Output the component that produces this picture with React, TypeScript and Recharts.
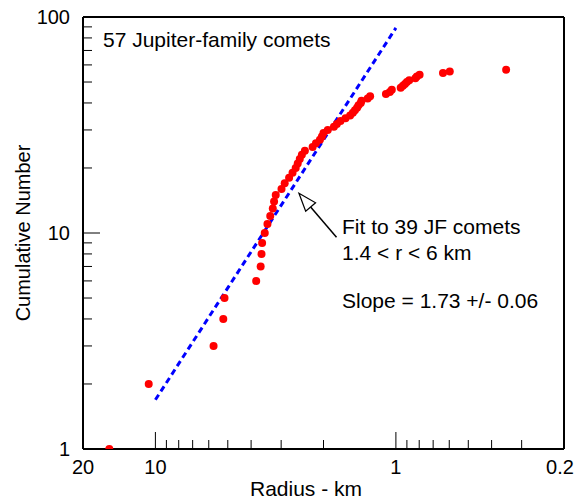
import { ScatterChart, Scatter, XAxis, YAxis, ReferenceLine, Customized } from 'recharts'

// cumulative count vs comet radius (km), largest first
const counts = [
  1, 2, 3, 4, 5, 6, 7, 8, 9, 10, 11, 12, 13, 14, 15, 16, 17, 18, 19, 20,
  21, 22, 23, 24, 25, 26, 27, 28, 29, 30, 31, 32, 33, 34, 35, 36, 37, 38, 39, 40,
  41, 42, 43, 44, 45, 46, 47, 48, 49, 50, 51, 52, 53, 54, 55, 56, 57,
]
const radii = [
  15.55, 10.66, 5.73, 5.22, 5.16, 3.81, 3.65, 3.62, 3.6, 3.51, 3.42, 3.33, 3.25, 3.21, 3.16, 2.99, 2.9, 2.78, 2.69, 2.61,
  2.56, 2.51, 2.46, 2.39, 2.22, 2.15, 2.07, 2.03, 2.0, 1.92, 1.81, 1.76, 1.7, 1.62, 1.55, 1.51, 1.48, 1.45, 1.43, 1.4,
  1.39, 1.31, 1.28, 1.1, 1.06, 1.04, 0.955, 0.935, 0.917, 0.9, 0.88, 0.83, 0.818, 0.797, 0.637, 0.597, 0.348,
]

// power-law fit, N ~ r^-1.73
const fitRadius = [10, 1]
const fitCount = [1.69, 89]

// arrow pointing at the fit line: [tail, tip]
const arrowRadius = [1.766, 2.53]
const arrowCount = [9.55, 15.27]

const xDomain = [0.2, 20]
const yDomain = [1, 100]
const xTicks = [20, 10, 9, 8, 7, 6, 5, 4, 3, 2, 1, 0.9, 0.8, 0.7, 0.6, 0.5, 0.4, 0.3, 0.2]
const xLabels = [20, 10, 1, 0.2]
const xMajor = [10, 1]
const yTicks = [1, 2, 3, 4, 5, 6, 7, 8, 9, 10, 20, 30, 40, 50, 60, 70, 80, 90, 100]
const yLabels = [1, 10, 100]
const yMajor = [10]

const points = radii.map((r, i) => ({ r, n: counts[i] }))
const fitData = fitRadius.map((r, i) => ({ r, n: fitCount[i] }))

const FONT = '"Liberation Sans", Arial, sans-serif'

const XTick = ({ x, y, payload }: any) => {
  const v = payload.value
  const axisY = y - 8
  const len = xMajor.includes(v) ? 17 : 9
  const edge = v === 20 || v === 0.2
  return (
    <g>
      {!edge && <line x1={x} x2={x} y1={axisY} y2={axisY - len} stroke="#000" strokeWidth={1} />}
      {xLabels.includes(v) && (
        <text x={v === 0.2 ? x - 4 : x} y={axisY + 25} textAnchor="middle" fontSize={20} fontFamily={FONT} fill="#000">
          {v}
        </text>
      )}
    </g>
  )
}

const YTick = ({ x, y, payload }: any) => {
  const v = payload.value
  const axisX = x + 8
  const len = yMajor.includes(v) ? 17 : 9
  const edge = v === 1 || v === 100
  return (
    <g>
      {!edge && <line x1={axisX} x2={axisX + len} y1={y} y2={y} stroke="#000" strokeWidth={1} />}
      {yLabels.includes(v) && (
        <text x={axisX - 13} y={y + 7} textAnchor="end" fontSize={20} fontFamily={FONT} fill="#000">
          {v}
        </text>
      )}
    </g>
  )
}

const Arrow = (p: any) => {
  const { x1, y1, x2, y2 } = p
  const dx = x2 - x1
  const dy = y2 - y1
  const L = Math.hypot(dx, dy) || 1
  const ux = dx / L
  const uy = dy / L
  const head = 18
  const half = 6.5
  const bx = x2 - ux * head
  const by = y2 - uy * head
  const pts = `${x2},${y2} ${bx - uy * half},${by + ux * half} ${bx + uy * half},${by - ux * half}`
  return (
    <g>
      <line x1={x1} y1={y1} x2={bx} y2={by} stroke="#000" strokeWidth={1.5} />
      <polygon points={pts} fill="#fff" stroke="#000" strokeWidth={1.2} />
    </g>
  )
}

const Annotations = () => (
  <g fontFamily={FONT} fill="#000">
    <text x={103} y={47} fontSize={21}>57 Jupiter-family comets</text>
    <text x={342} y={234} fontSize={21}>Fit to 39 JF comets</text>
    <text x={342} y={260} fontSize={21}>1.4 &lt; r &lt; 6 km</text>
    <text x={342} y={308} fontSize={21}>Slope = 1.73 +/- 0.06</text>
    <text x={306} y={496} fontSize={21} textAnchor="middle">Radius - km</text>
    <text x={30} y={233} fontSize={20} textAnchor="middle" transform="rotate(-90 30 233)">Cumulative Number</text>
  </g>
)

export default function App() {
  return (
    <div style={{ position: 'absolute', left: 0, top: 0, background: '#fff' }}>
      <ScatterChart width={576} height={501} margin={{ top: 17, right: 12, bottom: 0, left: 0 }}>
        <XAxis
          dataKey="r"
          type="number"
          scale="log"
          domain={xDomain}
          reversed
          ticks={xTicks}
          interval={0}
          tick={<XTick />}
          tickLine={false}
          tickSize={6}
          tickMargin={2}
          height={52}
          axisLine={{ stroke: '#000', strokeWidth: 2 }}
          allowDataOverflow
        />
        <YAxis
          dataKey="n"
          type="number"
          scale="log"
          domain={yDomain}
          ticks={yTicks}
          interval={0}
          tick={<YTick />}
          tickLine={false}
          tickSize={6}
          tickMargin={2}
          width={83}
          axisLine={{ stroke: '#000', strokeWidth: 2 }}
          allowDataOverflow
        />
        {/* box: top and right edges */}
        <ReferenceLine y={yDomain[1]} stroke="#000" strokeWidth={2} ifOverflow="visible" />
        <ReferenceLine x={xDomain[0]} stroke="#000" strokeWidth={2} ifOverflow="visible" />
        <Scatter
          data={fitData}
          isAnimationActive={false}
          line={{ stroke: '#0000ff', strokeWidth: 3, strokeDasharray: '6 4' }}
          shape={() => <g />}
        />
        <Scatter
          data={points}
          isAnimationActive={false}
          shape={(p: any) => <circle cx={p.cx} cy={p.cy} r={4} fill="#ff0000" />}
        />
        <ReferenceLine
          segment={[
            { x: arrowRadius[0], y: arrowCount[0] },
            { x: arrowRadius[1], y: arrowCount[1] },
          ]}
          shape={<Arrow />}
          ifOverflow="visible"
        />
        <Customized component={<Annotations />} />
      </ScatterChart>
    </div>
  )
}
